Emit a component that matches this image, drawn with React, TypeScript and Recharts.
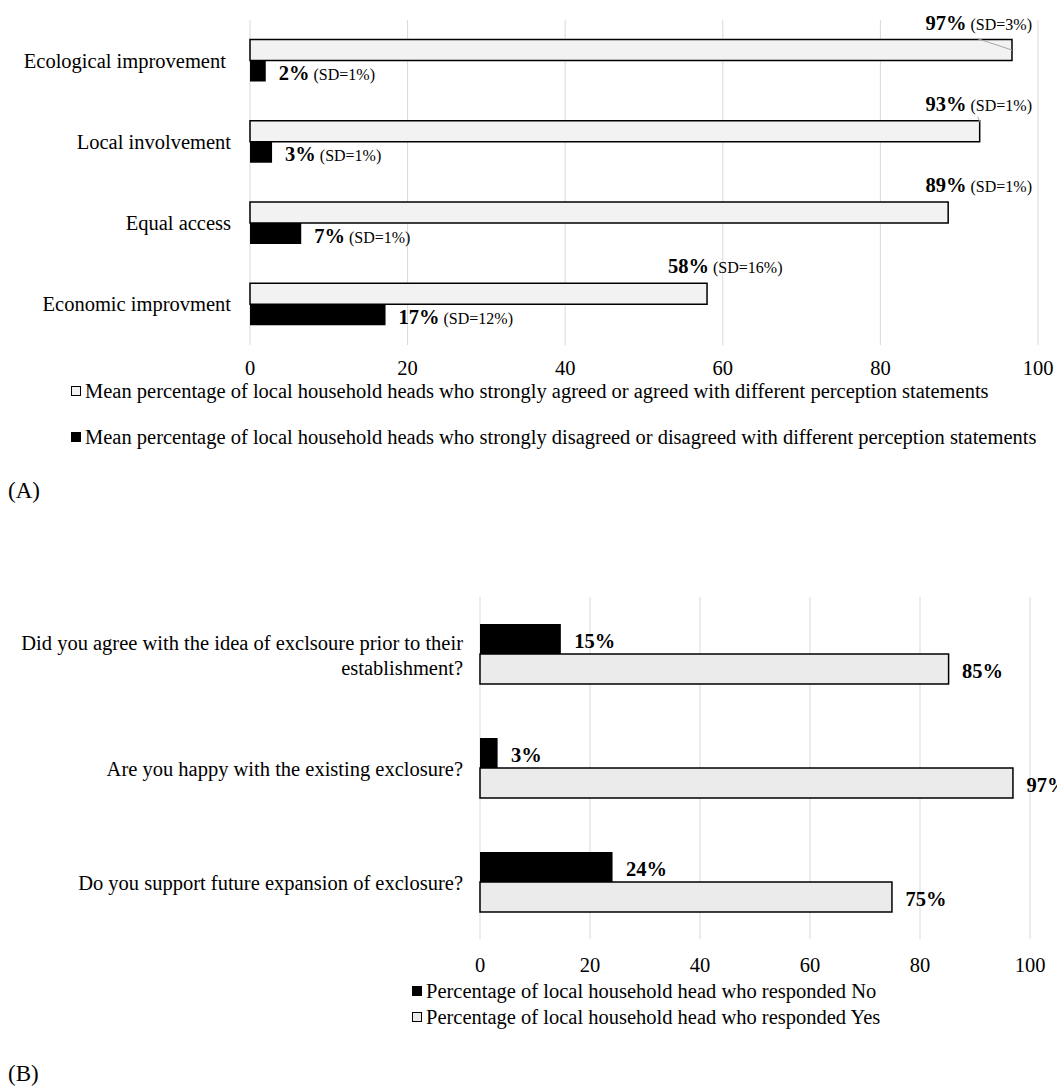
import React from 'react';
import { BarChart, Bar, XAxis, YAxis, CartesianGrid, Legend, LabelList } from 'recharts';

const FONT = '"Liberation Serif", "Times New Roman", serif';

// (A) perception statements
const perceptionCategories = ['Ecological improvement ', 'Local involvement', 'Equal access', 'Economic improvment'];
const agreePct = [96.7, 92.6, 88.6, 58.0];
const agreeSD = [3, 1, 1, 16];
const disagreePct = [2.0, 2.8, 6.5, 17.2];
const disagreeSD = [1, 1, 1, 12];
const agreeName = 'Mean percentage of local household heads who strongly agreed or agreed with different perception statements';
const disagreeName = 'Mean percentage of local household heads who strongly disagreed or disagreed with different perception statements';

// (B) exclosure questions
const questions = [
  'Did you agree with the idea of exclsoure prior to their establishment?',
  'Are you happy with the existing exclosure?',
  'Do you support future expansion of exclosure?',
];
const noPct = [14.7, 3.2, 24.1];
const yesPct = [85.2, 96.9, 74.9];
const noName = 'Percentage of local household head who responded No';
const yesName = 'Percentage of local household head who responded Yes';

const xTicks = [0, 20, 40, 60, 80, 100];

const dataA = perceptionCategories.map((name, i) => ({ name, agree: agreePct[i], disagree: disagreePct[i] }));
const dataB = questions.map((name, i) => ({ name, no: noPct[i], yes: yesPct[i] }));

// rough Times widths (em) for label placement
const REG: Record<string, number> = { '%': 0.833, '(': 0.333, ')': 0.333, S: 0.556, D: 0.722, '=': 0.564 };
const BOLD: Record<string, number> = { '%': 1.0 };
const textWidth = (s: string, size: number, bold: boolean) =>
  s.split('').reduce((w, c) => w + ((bold ? BOLD[c] : REG[c]) ?? 0.5), 0) * size;

// word wrap for long category names
let ctx: CanvasRenderingContext2D | null = null;
const measure = (s: string) => {
  if (!ctx) ctx = document.createElement('canvas').getContext('2d');
  if (!ctx) return s.length * 9;
  ctx.font = `20.5px ${FONT}`;
  return ctx.measureText(s).width;
};
const wrap = (s: string, max: number) => {
  const lines: string[] = [];
  let cur = '';
  s.split(' ').forEach((w) => {
    const next = cur ? `${cur} ${w}` : w;
    if (cur && measure(next) > max) {
      lines.push(cur);
      cur = w;
    } else cur = next;
  });
  if (cur) lines.push(cur);
  return lines;
};

const box = (p: any) => p.viewBox ?? p;

const AgreeLabel = (props: any) => {
  const { x, y, width, height } = box(props);
  const i = props.index;
  const end = x + width;
  const pct = `${Math.round(agreePct[i])}%`;
  const sd = `(SD=${agreeSD[i]}%)`;
  const w = textWidth(pct, 20.5, true) + 4 + textWidth(sd, 16, false);
  const want = end - 39;
  // labels near the right edge are pushed flush against it
  const start = want + w > 990 ? 1032 - w : want;
  const shift = want - start;
  return (
    <g>
      {shift > 45 && <line x1={end - 35} y1={y - 1} x2={end} y2={y + height / 2} stroke="#a6a6a6" strokeWidth={1} />}
      {shift > 10 && shift <= 45 && <line x1={end - 2} y1={y - 4} x2={end} y2={y + 1} stroke="#a6a6a6" strokeWidth={1} />}
      <text x={start} y={y - 10} fontFamily={FONT} fill="#000">
        <tspan fontWeight="bold" fontSize={20.5}>{pct}</tspan>
        <tspan fontSize={16} dx={4}>{sd}</tspan>
      </text>
    </g>
  );
};

const DisagreeLabel = (props: any) => {
  const { x, y, width, height } = box(props);
  const i = props.index;
  return (
    <text x={x + width + 13} y={y + height / 2 + 9} fontFamily={FONT} fill="#000">
      <tspan fontWeight="bold" fontSize={20.5}>{`${Math.round(disagreePct[i])}%`}</tspan>
      <tspan fontSize={16} dx={4}>{`(SD=${disagreeSD[i]}%)`}</tspan>
    </text>
  );
};

const PctLabelB = (props: any) => {
  const { x, y, width, height } = box(props);
  return (
    <text x={x + width + 13.5} y={y + height / 2 + 9} fontFamily={FONT} fontSize={20.5} fontWeight="bold" fill="#000">
      {`${Math.round(props.value)}%`}
    </text>
  );
};

const CategoryTickA = ({ x, y, payload }: any) => (
  <text x={x} y={y} dy={7} textAnchor="end" fontFamily={FONT} fontSize={20.5} fill="#000" xmlSpace="preserve" style={{ whiteSpace: 'pre' }}>
    {payload.value}
  </text>
);

const CategoryTickB = ({ x, y, payload }: any) => {
  const lines = wrap(String(payload.value), 450);
  const lh = 25;
  return (
    <text x={x} y={y} textAnchor="end" fontFamily={FONT} fontSize={20.5} fill="#000">
      {lines.map((l, i) => (
        <tspan key={i} x={x} dy={i === 0 ? 8 - ((lines.length - 1) * lh) / 2 : lh}>{l}</tspan>
      ))}
    </text>
  );
};

const makeXTick = (dy: number) => ({ x, y, payload }: any) => (
  <text x={x} y={y + dy} textAnchor="middle" fontFamily={FONT} fontSize={20.5} fill="#000">
    {payload.value}
  </text>
);

const makeLegend = (gap: number) => ({ payload }: any) => (
  <div style={{ fontFamily: FONT, fontSize: 20.5, color: '#000' }}>
    {(payload || []).map((entry: any, i: number) => (
      <div key={i} style={{ height: 24, lineHeight: '24px', whiteSpace: 'nowrap', marginTop: i === 0 ? 0 : gap, display: 'flex', alignItems: 'center' }}>
        <span style={{ display: 'inline-block', width: 8, height: 8, border: '1px solid #000', background: entry.color, marginRight: 4 }} />
        <span>{entry.value}</span>
      </div>
    ))}
  </div>
);

const panelLabel: React.CSSProperties = { position: 'absolute', left: 8, fontFamily: FONT, fontSize: 23, color: '#000', lineHeight: '26px' };

export default function App() {
  return (
    <div style={{ position: 'absolute', left: 0, top: 0, width: 1057, height: 1087, background: '#fff', overflow: 'hidden' }}>
      <div style={{ position: 'absolute', left: 0, top: 0 }}>
        <BarChart layout="vertical" width={1057} height={480} data={dataA}
          margin={{ top: 20, right: 19, bottom: 95, left: 0 }} barCategoryGap="24%" barGap={0}>
          <CartesianGrid horizontal={false} stroke="#d9d9d9" />
          <XAxis type="number" domain={[0, 100]} ticks={xTicks} axisLine={false} tickLine={false}
            tickSize={0} tickMargin={0} height={40} tick={makeXTick(30)} interval={0} />
          <YAxis type="category" dataKey="name" width={250} axisLine={false} tickLine={false}
            tickSize={0} tickMargin={19} tick={<CategoryTickA />} interval={0} />
          <Bar dataKey="agree" name={agreeName} fill="#f2f2f2" stroke="#000" strokeWidth={1.5} isAnimationActive={false}>
            <LabelList dataKey="agree" content={<AgreeLabel />} />
          </Bar>
          <Bar dataKey="disagree" name={disagreeName} fill="#000" isAnimationActive={false}>
            <LabelList dataKey="disagree" content={<DisagreeLabel />} />
          </Bar>
          <Legend layout="vertical" align="center" verticalAlign="middle"
            wrapperStyle={{ left: 71, top: 379, width: 990 }} content={makeLegend(22)} />
        </BarChart>
      </div>
      <div style={{ ...panelLabel, top: 478 }}>(A)</div>

      <div style={{ position: 'absolute', left: 0, top: 577 }}>
        <BarChart layout="vertical" width={1057} height={500} data={dataB}
          margin={{ top: 20, right: 27, bottom: 98, left: 0 }} barCategoryGap="23.7%" barGap={0}>
          <CartesianGrid horizontal={false} stroke="#d9d9d9" />
          <XAxis type="number" domain={[0, 100]} ticks={xTicks} axisLine={false} tickLine={false}
            tickSize={0} tickMargin={0} height={40} tick={makeXTick(33)} interval={0} />
          <YAxis type="category" dataKey="name" width={480} axisLine={false} tickLine={false}
            tickSize={0} tickMargin={17} tick={<CategoryTickB />} interval={0} />
          <Bar dataKey="no" name={noName} fill="#000" isAnimationActive={false}>
            <LabelList dataKey="no" content={<PctLabelB />} />
          </Bar>
          <Bar dataKey="yes" name={yesName} fill="#ebebeb" stroke="#000" strokeWidth={1.5} isAnimationActive={false}>
            <LabelList dataKey="yes" content={<PctLabelB />} />
          </Bar>
          <Legend layout="vertical" align="center" verticalAlign="middle"
            wrapperStyle={{ left: 412, top: 402, width: 640 }} content={makeLegend(2)} />
        </BarChart>
      </div>
      <div style={{ ...panelLabel, top: 1061 }}>(B)</div>
    </div>
  );
}
